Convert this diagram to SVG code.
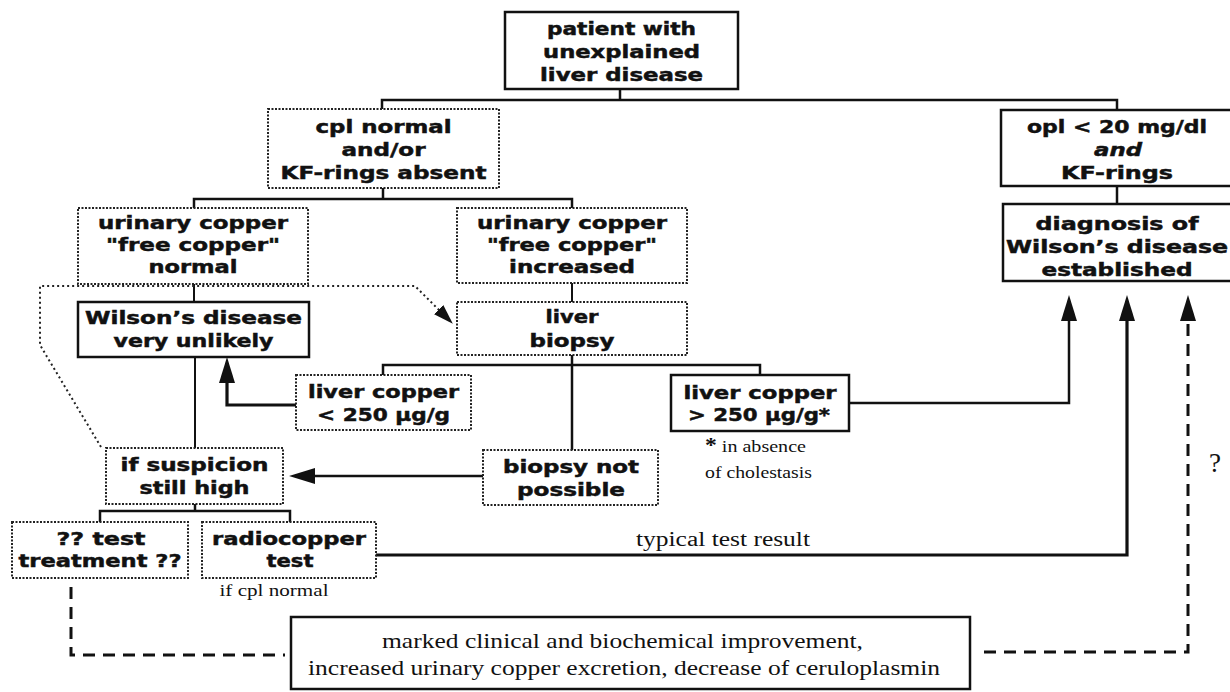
<svg xmlns="http://www.w3.org/2000/svg" width="1230" height="692" viewBox="0 0 1230 692">
<style>
.b{font-family:"DejaVu Sans","Liberation Sans",sans-serif;font-weight:bold;font-size:18px;text-anchor:middle;fill:#111;stroke:#111;stroke-width:0.5}
.i{font-style:italic}
.s{font-family:"Liberation Serif",serif;font-size:20px;fill:#111}
.solid{fill:#fff;stroke:#111;stroke-width:2.5}
.dot{fill:#fff;stroke:#222;stroke-width:2;stroke-dasharray:2 1.5}
.ln{fill:none;stroke:#111;stroke-width:2.5}
.thin{fill:none;stroke:#111;stroke-width:2}
.thick{fill:none;stroke:#111;stroke-width:3.2}
.dash{fill:none;stroke:#111;stroke-width:3;stroke-dasharray:12 8}
.dots{fill:none;stroke:#222;stroke-width:2;stroke-dasharray:2 3}
</style>
<defs>
<marker id="arr" markerUnits="userSpaceOnUse" markerWidth="26" markerHeight="16" viewBox="0 0 26 16" refX="20" refY="8" orient="auto">
<path d="M0,0 L26,8 L0,16 Z" fill="#111"/>
</marker>
<marker id="arrs" markerUnits="userSpaceOnUse" markerWidth="20" markerHeight="13" viewBox="0 0 20 13" refX="16" refY="6.5" orient="auto">
<path d="M0,0 L20,6.5 L0,13 Z" fill="#111"/>
</marker>
</defs>
<rect width="1230" height="692" fill="#fff"/>

<g id="connectors">
<path class="ln" d="M620,89 V100"/>
<path class="ln" d="M382,110 V100 H1117 V110"/>
<path class="ln" d="M383,188 V199"/>
<path class="ln" d="M194,208 V199 H572 V208"/>
<path class="ln" d="M1117,186 V204"/>
<path class="thin" d="M194,284 V302"/>
<path class="thin" d="M572,283 V302"/>
<path class="ln" d="M572,355 V450"/>
<path class="ln" d="M383,375 V365 H760 V375"/>
<path class="thin" d="M195,357 V448"/>
<path class="thick" d="M296,405 H227 V363" marker-end="url(#arr)"/>
<path class="ln" d="M849,403 H1069 V301" marker-end="url(#arr)"/>
<path class="ln" d="M483,476 H295" marker-end="url(#arr)"/>
<path class="ln" d="M195,504 V511"/>
<path class="ln" d="M100,522 V511 H290 V522"/>
<path class="thick" d="M376,555 H1127 V301" marker-end="url(#arr)"/>
<path class="dash" d="M71,587 V655 H285"/>
<path class="dash" d="M984,652 H1188 V301" marker-end="url(#arr)"/>
<path class="dots" d="M101,447 L40,345 V286 H415 L450,321" marker-end="url(#arrs)"/>
<text class="s" x="636" y="546" textLength="174" lengthAdjust="spacingAndGlyphs">typical test result</text>
<text class="s" x="1209" y="472" style="font-size:27px">?</text>
</g>

<g id="patient">
<rect class="solid" x="505" y="12" width="233" height="77"/>
<text class="b" x="621.5" y="35" textLength="149" lengthAdjust="spacingAndGlyphs">patient with</text>
<text class="b" x="621.5" y="58" textLength="157" lengthAdjust="spacingAndGlyphs">unexplained</text>
<text class="b" x="621.5" y="81" textLength="163" lengthAdjust="spacingAndGlyphs">liver disease</text>
</g>

<g id="cpl-normal">
<rect class="dot" x="268" y="109" width="231" height="79"/>
<text class="b" x="383.5" y="133" textLength="136" lengthAdjust="spacingAndGlyphs">cpl normal</text>
<text class="b" x="383.5" y="156" textLength="84" lengthAdjust="spacingAndGlyphs">and/or</text>
<text class="b" x="383.5" y="179" textLength="206" lengthAdjust="spacingAndGlyphs">KF-rings absent</text>
</g>

<g id="opl-low">
<rect class="solid" x="1001" y="110" width="235" height="76"/>
<text class="b" x="1117" y="133" textLength="180" lengthAdjust="spacingAndGlyphs">opl &lt; 20 mg/dl</text>
<text class="b i" x="1118" y="156" textLength="48" lengthAdjust="spacingAndGlyphs">and</text>
<text class="b" x="1117" y="179" textLength="112" lengthAdjust="spacingAndGlyphs">KF-rings</text>
</g>

<g id="urinary-normal">
<rect class="dot" x="78" y="208" width="230" height="76"/>
<text class="b" x="193" y="229" textLength="190" lengthAdjust="spacingAndGlyphs">urinary copper</text>
<text class="b" x="193" y="251" textLength="174" lengthAdjust="spacingAndGlyphs">"free copper"</text>
<text class="b" x="193" y="273" textLength="89" lengthAdjust="spacingAndGlyphs">normal</text>
</g>

<g id="urinary-increased">
<rect class="dot" x="457" y="208" width="230" height="75"/>
<text class="b" x="572" y="229" textLength="190" lengthAdjust="spacingAndGlyphs">urinary copper</text>
<text class="b" x="572" y="251" textLength="170" lengthAdjust="spacingAndGlyphs">"free copper"</text>
<text class="b" x="572" y="273" textLength="126" lengthAdjust="spacingAndGlyphs">increased</text>
</g>

<g id="diagnosis">
<rect class="solid" x="1003" y="204" width="233" height="77"/>
<text class="b" x="1117" y="230" textLength="163" lengthAdjust="spacingAndGlyphs">diagnosis of</text>
<text class="b" x="1117" y="253" textLength="222" lengthAdjust="spacingAndGlyphs">Wilson’s disease</text>
<text class="b" x="1117" y="276" textLength="151" lengthAdjust="spacingAndGlyphs">established</text>
</g>

<g id="unlikely">
<rect class="solid" x="78" y="302" width="231" height="55"/>
<text class="b" x="193.5" y="324" textLength="217" lengthAdjust="spacingAndGlyphs">Wilson’s disease</text>
<text class="b" x="193.5" y="347" textLength="160" lengthAdjust="spacingAndGlyphs">very unlikely</text>
</g>

<g id="liver-biopsy">
<rect class="dot" x="457" y="302" width="230" height="53"/>
<text class="b" x="572" y="323" textLength="53" lengthAdjust="spacingAndGlyphs">liver</text>
<text class="b" x="572" y="347" textLength="85" lengthAdjust="spacingAndGlyphs">biopsy</text>
</g>

<g id="copper-low">
<rect class="dot" x="296" y="375" width="175" height="55"/>
<text class="b" x="383.5" y="398" textLength="151" lengthAdjust="spacingAndGlyphs">liver copper</text>
<text class="b" x="383.5" y="421" textLength="133" lengthAdjust="spacingAndGlyphs">&lt; 250 µg/g</text>
</g>

<g id="copper-high">
<rect class="solid" x="671" y="375" width="178" height="56"/>
<text class="b" x="760" y="399" textLength="153" lengthAdjust="spacingAndGlyphs">liver copper</text>
<text class="b" x="759" y="421" textLength="142" lengthAdjust="spacingAndGlyphs">&gt; 250 µg/g*</text>
<text class="s" x="705" y="452" style="font-size:17px" textLength="101" lengthAdjust="spacingAndGlyphs"><tspan style="font-weight:bold;font-size:20px">*</tspan> in absence</text>
<text class="s" x="705" y="478" style="font-size:17px" textLength="107" lengthAdjust="spacingAndGlyphs">of cholestasis</text>
</g>

<g id="suspicion">
<rect class="dot" x="106" y="448" width="177" height="56"/>
<text class="b" x="194.5" y="471" textLength="148" lengthAdjust="spacingAndGlyphs">if suspicion</text>
<text class="b" x="194.5" y="494" textLength="110" lengthAdjust="spacingAndGlyphs">still high</text>
</g>

<g id="biopsy-impossible">
<rect class="dot" x="483" y="450" width="175" height="55"/>
<text class="b" x="571" y="473" textLength="136" lengthAdjust="spacingAndGlyphs">biopsy not</text>
<text class="b" x="571" y="496" textLength="108" lengthAdjust="spacingAndGlyphs">possible</text>
</g>

<g id="test-treatment">
<rect class="dot" x="12" y="522" width="176" height="56"/>
<text class="b" x="101" y="545" textLength="89" lengthAdjust="spacingAndGlyphs">?? test</text>
<text class="b" x="100" y="567" textLength="163" lengthAdjust="spacingAndGlyphs">treatment ??</text>
</g>

<g id="radiocopper">
<rect class="dot" x="202" y="522" width="174" height="56"/>
<text class="b" x="289" y="545" textLength="154" lengthAdjust="spacingAndGlyphs">radiocopper</text>
<text class="b" x="290" y="567" textLength="47" lengthAdjust="spacingAndGlyphs">test</text>
<text class="s" x="274" y="596" style="font-size:17px;text-anchor:middle" textLength="109" lengthAdjust="spacingAndGlyphs">if cpl normal</text>
</g>

<g id="improvement">
<rect class="solid" x="291" y="617" width="679" height="72"/>
<text class="s" x="622.5" y="648" style="font-size:21px;text-anchor:middle" textLength="481" lengthAdjust="spacingAndGlyphs">marked clinical and biochemical improvement,</text>
<text class="s" x="624" y="675" style="font-size:21px;text-anchor:middle" textLength="632" lengthAdjust="spacingAndGlyphs">increased urinary copper excretion, decrease of ceruloplasmin</text>
</g>
</svg>
